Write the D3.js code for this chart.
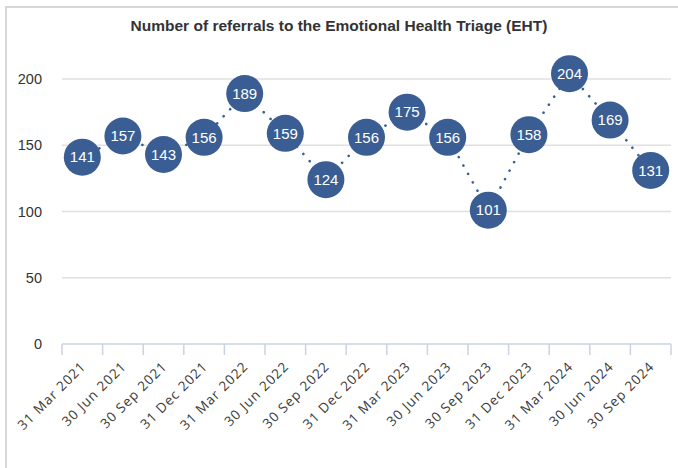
<!DOCTYPE html>
<html lang="en">
  <head>
    <meta charset="utf-8">
    <title>EHT referrals</title>
    <style>
      body { margin: 0; background: #fff; }
      svg { display: block; }
    </style>
    <script src="https://cdnjs.cloudflare.com/ajax/libs/d3/7.8.5/d3.min.js"></script>
  </head>
  <body>
    <script>
      // data
      const quarters = ['31 Mar 2021', '30 Jun 2021', '30 Sep 2021', '31 Dec 2021',
                        '31 Mar 2022', '30 Jun 2022', '30 Sep 2022', '31 Dec 2022',
                        '31 Mar 2023', '30 Jun 2023', '30 Sep 2023', '31 Dec 2023',
                        '31 Mar 2024', '30 Jun 2024', '30 Sep 2024'];
      const referrals = [141, 157, 143, 156, 189, 159, 124, 156, 175, 156, 101, 158, 204, 169, 131];
      const yTicks = [0, 50, 100, 150, 200];

      const width = 678, height = 468;
      const margin = { top: 79, right: 7, bottom: 124, left: 62 };
      const blue = '#3a5e93';

      const svg = d3.select('body').append('svg')
        .attr('width', width)
        .attr('height', height);

      // outer frame (runs off the right and bottom edges)
      svg.append('rect')
        .attr('x', 6).attr('y', 7)
        .attr('width', 700).attr('height', 500)
        .attr('fill', '#fff')
        .attr('stroke', '#d6d6d6')
        .attr('stroke-width', 2);

      svg.append('text')
        .attr('x', 339).attr('y', 31)
        .attr('text-anchor', 'middle')
        .attr('font-family', 'Liberation Sans, Arial, sans-serif')
        .attr('font-size', 15.5)
        .attr('font-weight', 'bold')
        .attr('fill', '#333')
        .text('Number of referrals to the Emotional Health Triage (EHT)');

      const x = d3.scaleBand()
        .domain(quarters)
        .range([margin.left, width - margin.right]);

      const y = d3.scaleLinear()
        .domain([0, 200])
        .range([height - margin.bottom, margin.top]);

      // gridlines
      svg.append('g')
        .selectAll('line')
        .data(yTicks.filter(d => d > 0))
        .join('line')
        .attr('x1', margin.left).attr('x2', width - margin.right)
        .attr('y1', d => y(d)).attr('y2', d => y(d))
        .attr('stroke', '#e0e0e0')
        .attr('stroke-width', 1.5);

      // y labels
      svg.append('g')
        .selectAll('text')
        .data(yTicks)
        .join('text')
        .attr('x', 42)
        .attr('y', d => y(d))
        .attr('dy', '0.35em')
        .attr('text-anchor', 'end')
        .attr('font-family', 'Liberation Sans, Arial, sans-serif')
        .attr('font-size', 14.5)
        .attr('fill', '#333')
        .text(d => d);

      // x axis
      const xAxis = svg.append('g')
        .attr('transform', `translate(0,${y(0)})`);
      xAxis.append('line')
        .attr('x1', margin.left).attr('x2', width - margin.right)
        .attr('stroke', '#c9d3e6').attr('stroke-width', 1.5);
      const edges = quarters.map(q => x(q)).concat([x.range()[1]]);
      xAxis.selectAll('line.tick')
        .data(edges)
        .join('line')
        .attr('class', 'tick')
        .attr('x1', d => d).attr('x2', d => d)
        .attr('y1', 0).attr('y2', 11)
        .attr('stroke', '#c9d3e6').attr('stroke-width', 1.5);
      xAxis.selectAll('text')
        .data(quarters)
        .join('text')
        .attr('transform', d => `translate(${x(d) + x.bandwidth() / 2 + 1},${20}) rotate(-45)`)
        .attr('text-anchor', 'end')
        .attr('dy', '0.35em')
        .attr('font-family', 'Open Sans, DejaVu Sans, sans-serif')
        .attr('font-size', 13.5)
        .attr('letter-spacing', 1)
        .attr('fill', '#3a3a3a')
        .text(d => d);

      // dotted line
      const line = d3.line()
        .x((d, i) => x(quarters[i]) + x.bandwidth() / 2)
        .y(d => y(d));
      svg.append('path')
        .datum(referrals)
        .attr('d', line)
        .attr('fill', 'none')
        .attr('stroke', blue)
        .attr('stroke-width', 2.6)
        .attr('stroke-linecap', 'round')
        .attr('stroke-dasharray', '0.1 9.5');

      // markers
      const pts = svg.append('g')
        .selectAll('g')
        .data(referrals)
        .join('g')
        .attr('transform', (d, i) => `translate(${x(quarters[i]) + x.bandwidth() / 2},${y(d)})`);
      pts.append('circle')
        .attr('r', 18.5)
        .attr('fill', blue);
      pts.append('text')
        .attr('text-anchor', 'middle')
        .attr('dy', '0.35em')
        .attr('font-family', 'Liberation Sans, Arial, sans-serif')
        .attr('font-size', 15)
        .attr('fill', '#fff')
        .text(d => d);
    </script>
  </body>
</html>
